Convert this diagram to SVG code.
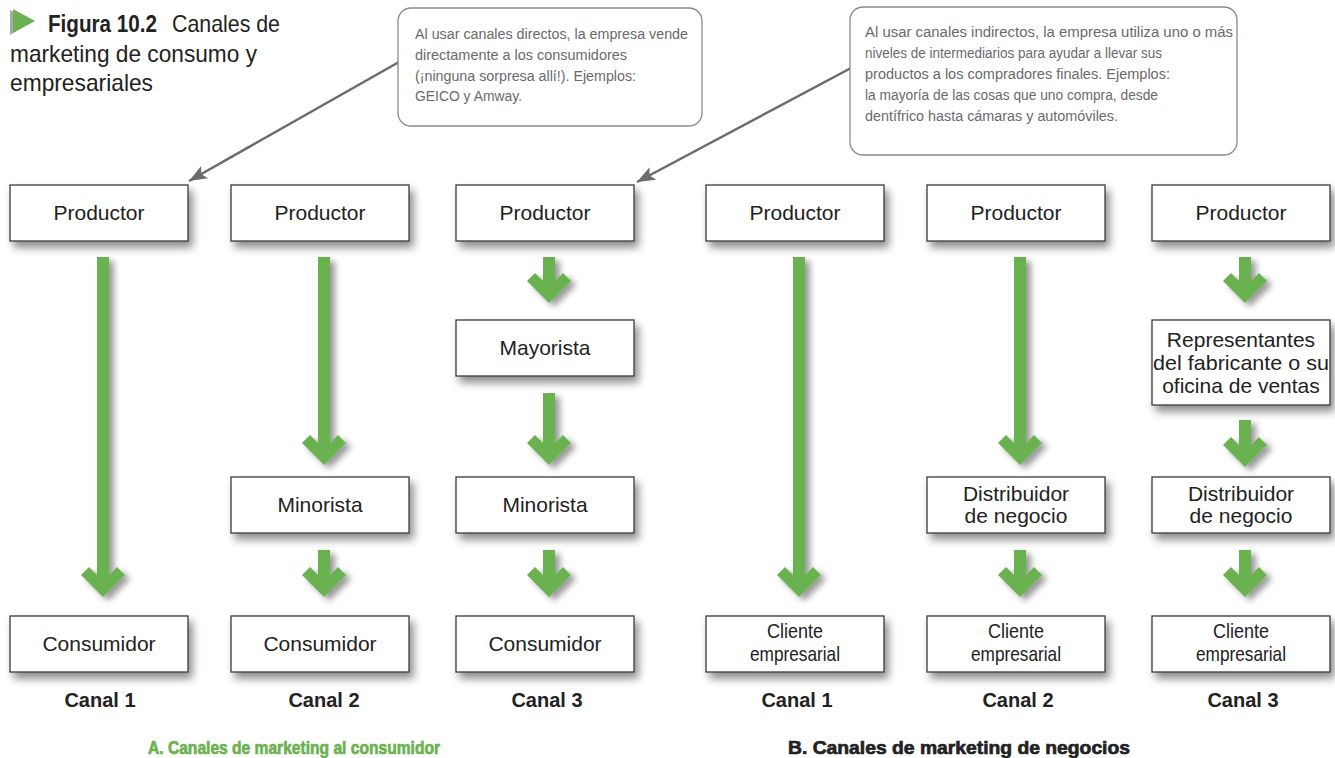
<svg xmlns="http://www.w3.org/2000/svg" width="1335" height="758" viewBox="0 0 1335 758">
<defs>
<filter id="sh" x="-10%" y="-20%" width="130%" height="160%">
<feDropShadow dx="4" dy="6" stdDeviation="4" flood-color="#000" flood-opacity="0.45"/>
</filter>
<filter id="ash" x="-50%" y="-10%" width="220%" height="130%">
<feDropShadow dx="5" dy="4" stdDeviation="3" flood-color="#000" flood-opacity="0.4"/>
</filter>
<marker id="ptr" markerUnits="userSpaceOnUse" markerWidth="20" markerHeight="14" refX="18" refY="7" orient="auto">
<path d="M0,0 L18,7 L0,14 L4,7 Z" fill="#6b6b6b"/>
</marker>
<style>
.box{fill:#fff;stroke:#3a3a3a;stroke-width:1.3;filter:url(#sh)}
.lbl{font-family:"Liberation Sans",Arial,sans-serif;font-size:21px;fill:#222;text-anchor:middle}
.arr{fill:#6ab24f;filter:url(#ash)}
.canal{font-family:"Liberation Sans",Arial,sans-serif;font-weight:bold;font-size:20px;fill:#222;text-anchor:middle}
.note{font-family:"Liberation Sans Narrow","Liberation Sans",Arial,sans-serif;font-size:15.5px;fill:#6a6a6a}
.callout{fill:#fff;stroke:#8a8a8a;stroke-width:1.3}
.ptrline{stroke:#6b6b6b;stroke-width:2.5;fill:none;marker-end:url(#ptr)}
.title{font-family:"Liberation Sans Narrow","Liberation Sans",Arial,sans-serif;font-size:24px;fill:#222}
.sect{font-family:"Liberation Sans",Arial,sans-serif;font-weight:900;font-size:19px;stroke-width:0.7}
</style>
</defs>

<g id="title">
<polygon points="10,10 31,22 10,35" fill="#a8a8a8"/>
<polygon points="13,9 35,21 13,33" fill="#6ab24f"/>
<text class="title" x="48" y="32"><tspan font-weight="bold" textLength="109" lengthAdjust="spacingAndGlyphs">Figura 10.2</tspan></text>
<text class="title" x="172" y="32" textLength="108" lengthAdjust="spacingAndGlyphs">Canales de</text>
<text class="title" x="10" y="62" textLength="247" lengthAdjust="spacingAndGlyphs">marketing de consumo y</text>
<text class="title" x="10" y="91" textLength="143" lengthAdjust="spacingAndGlyphs">empresariales</text>
</g>

<g id="connectors">
<line class="ptrline" x1="399" y1="62" x2="189" y2="181"/>
<line class="ptrline" x1="851" y1="68" x2="637" y2="182"/>
<path class="arr" d="M97,257 H109 V575 L117,567 L125,575 L103,597 L81,575 L89,567 L97,575 Z"/>
<path class="arr" d="M318,257 H330 V443 L338,435 L346,443 L324,465 L302,443 L310,435 L318,443 Z"/>
<path class="arr" d="M318,550 H330 V575 L338,567 L346,575 L324,597 L302,575 L310,567 L318,575 Z"/>
<path class="arr" d="M543,257 H555 V281 L563,273 L571,281 L549,303 L527,281 L535,273 L543,281 Z"/>
<path class="arr" d="M543,393 H555 V443 L563,435 L571,443 L549,465 L527,443 L535,435 L543,443 Z"/>
<path class="arr" d="M543,550 H555 V575 L563,567 L571,575 L549,597 L527,575 L535,567 L543,575 Z"/>
<path class="arr" d="M793,257 H805 V575 L813,567 L821,575 L799,597 L777,575 L785,567 L793,575 Z"/>
<path class="arr" d="M1014,257 H1026 V443 L1034,435 L1042,443 L1020,465 L998,443 L1006,435 L1014,443 Z"/>
<path class="arr" d="M1014,550 H1026 V575 L1034,567 L1042,575 L1020,597 L998,575 L1006,567 L1014,575 Z"/>
<path class="arr" d="M1239,257 H1251 V281 L1259,273 L1267,281 L1245,303 L1223,281 L1231,273 L1239,281 Z"/>
<path class="arr" d="M1239,420 H1251 V445 L1259,437 L1267,445 L1245,467 L1223,445 L1231,437 L1239,445 Z"/>
<path class="arr" d="M1239,550 H1251 V575 L1259,567 L1267,575 L1245,597 L1223,575 L1231,567 L1239,575 Z"/>
</g>

<g id="callout-directos">
<rect class="callout" x="398" y="8" width="304" height="118" rx="13"/>
<text class="note" x="415" y="39" textLength="273" lengthAdjust="spacingAndGlyphs">Al usar canales directos, la empresa vende</text>
<text class="note" x="415" y="60" textLength="212" lengthAdjust="spacingAndGlyphs">directamente a los consumidores</text>
<text class="note" x="415" y="81" textLength="221" lengthAdjust="spacingAndGlyphs">(¡ninguna sorpresa allí!). Ejemplos:</text>
<text class="note" x="415" y="101" textLength="107" lengthAdjust="spacingAndGlyphs">GEICO y Amway.</text>
</g>

<g id="callout-indirectos">
<rect class="callout" x="850" y="7" width="387" height="148" rx="13"/>
<text class="note" x="865" y="37" textLength="368" lengthAdjust="spacingAndGlyphs">Al usar canales indirectos, la empresa utiliza uno o más</text>
<text class="note" x="865" y="58" textLength="297" lengthAdjust="spacingAndGlyphs">niveles de intermediarios para ayudar a llevar sus</text>
<text class="note" x="865" y="79" textLength="305" lengthAdjust="spacingAndGlyphs">productos a los compradores finales. Ejemplos:</text>
<text class="note" x="865" y="100" textLength="293" lengthAdjust="spacingAndGlyphs">la mayoría de las cosas que uno compra, desde</text>
<text class="note" x="865" y="121" textLength="253" lengthAdjust="spacingAndGlyphs">dentífrico hasta cámaras y automóviles.</text>
</g>

<g id="a1-productor"><rect class="box" x="10" y="185" width="178" height="56"/><text class="lbl" x="99" y="220">Productor</text></g>
<g id="a1-consumidor"><rect class="box" x="10" y="616" width="178" height="56"/><text class="lbl" x="99" y="651">Consumidor</text></g>

<g id="a2-productor"><rect class="box" x="231" y="185" width="178" height="56"/><text class="lbl" x="320" y="220">Productor</text></g>
<g id="a2-minorista"><rect class="box" x="231" y="477" width="178" height="56"/><text class="lbl" x="320" y="512">Minorista</text></g>
<g id="a2-consumidor"><rect class="box" x="231" y="616" width="178" height="56"/><text class="lbl" x="320" y="651">Consumidor</text></g>

<g id="a3-productor"><rect class="box" x="456" y="185" width="178" height="56"/><text class="lbl" x="545" y="220">Productor</text></g>
<g id="a3-mayorista"><rect class="box" x="456" y="320" width="178" height="56"/><text class="lbl" x="545" y="355">Mayorista</text></g>
<g id="a3-minorista"><rect class="box" x="456" y="477" width="178" height="56"/><text class="lbl" x="545" y="512">Minorista</text></g>
<g id="a3-consumidor"><rect class="box" x="456" y="616" width="178" height="56"/><text class="lbl" x="545" y="651">Consumidor</text></g>

<g id="b1-productor"><rect class="box" x="706" y="185" width="178" height="56"/><text class="lbl" x="795" y="220">Productor</text></g>
<g id="b1-cliente"><rect class="box" x="706" y="616" width="178" height="56"/><text class="lbl" x="795" y="638" textLength="56" lengthAdjust="spacingAndGlyphs">Cliente</text><text class="lbl" x="795" y="661" textLength="90" lengthAdjust="spacingAndGlyphs">empresarial</text></g>

<g id="b2-productor"><rect class="box" x="927" y="185" width="178" height="56"/><text class="lbl" x="1016" y="220">Productor</text></g>
<g id="b2-distribuidor"><rect class="box" x="927" y="477" width="178" height="56"/><text class="lbl" x="1016" y="501">Distribuidor</text><text class="lbl" x="1016" y="523">de negocio</text></g>
<g id="b2-cliente"><rect class="box" x="927" y="616" width="178" height="56"/><text class="lbl" x="1016" y="638" textLength="56" lengthAdjust="spacingAndGlyphs">Cliente</text><text class="lbl" x="1016" y="661" textLength="90" lengthAdjust="spacingAndGlyphs">empresarial</text></g>

<g id="b3-productor"><rect class="box" x="1152" y="185" width="178" height="56"/><text class="lbl" x="1241" y="220">Productor</text></g>
<g id="b3-representantes"><rect class="box" x="1152" y="320" width="178" height="85"/><text class="lbl" x="1241" y="347">Representantes</text><text class="lbl" x="1241" y="370" textLength="176" lengthAdjust="spacingAndGlyphs">del fabricante o su</text><text class="lbl" x="1241" y="393">oficina de ventas</text></g>
<g id="b3-distribuidor"><rect class="box" x="1152" y="477" width="178" height="56"/><text class="lbl" x="1241" y="501">Distribuidor</text><text class="lbl" x="1241" y="523">de negocio</text></g>
<g id="b3-cliente"><rect class="box" x="1152" y="616" width="178" height="56"/><text class="lbl" x="1241" y="638" textLength="56" lengthAdjust="spacingAndGlyphs">Cliente</text><text class="lbl" x="1241" y="661" textLength="90" lengthAdjust="spacingAndGlyphs">empresarial</text></g>

<g id="labels">
<text class="canal" x="100" y="707">Canal 1</text>
<text class="canal" x="324" y="707">Canal 2</text>
<text class="canal" x="547" y="707">Canal 3</text>
<text class="canal" x="797" y="707">Canal 1</text>
<text class="canal" x="1018" y="707">Canal 2</text>
<text class="canal" x="1243" y="707">Canal 3</text>
<text class="sect" x="148" y="754" fill="#6ab24f" stroke="#6ab24f" textLength="292" lengthAdjust="spacingAndGlyphs">A. Canales de marketing al consumidor</text>
<text class="sect" x="788" y="754" fill="#222" stroke="#222" textLength="342" lengthAdjust="spacingAndGlyphs">B. Canales de marketing de negocios</text>
</g>
</svg>
